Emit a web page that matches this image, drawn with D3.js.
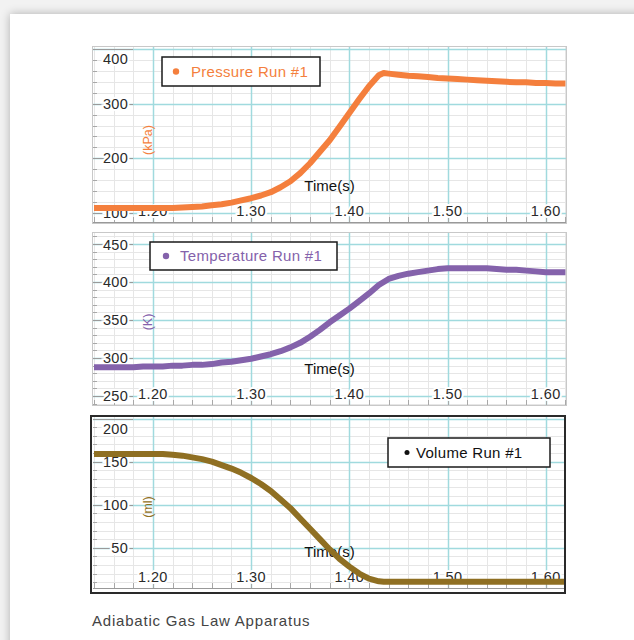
<!DOCTYPE html>
<html>
<head>
<meta charset="utf-8">
<script src="https://cdn.jsdelivr.net/npm/d3@7"></script>
<style>
	body { margin: 0; width: 634px; height: 640px; overflow: hidden; position: relative; background: #f2f2f2; font-family: "Liberation Sans", Arial, sans-serif; }
	#card { position: absolute; left: 10px; top: 14px; width: 680px; height: 700px; background: #fff; box-shadow: 0 0 9px rgba(0,0,0,0.28); }
	#chart { position: absolute; left: 0; top: 0; }
</style>
</head>
<body>
<div id="card"></div>
<svg id="chart" width="634" height="640"></svg>
<script>

	var times = [1.14, 1.15, 1.16, 1.17, 1.18, 1.19, 1.20, 1.21, 1.22, 1.23,
		1.24, 1.25, 1.26, 1.27, 1.28, 1.29, 1.30, 1.31, 1.32, 1.33,
		1.34, 1.35, 1.36, 1.37, 1.38, 1.39, 1.40, 1.41, 1.42, 1.43, 1.435,
		1.44, 1.45, 1.46, 1.47, 1.48, 1.49, 1.50, 1.51, 1.52, 1.53,
		1.54, 1.55, 1.56, 1.57, 1.58, 1.59, 1.60, 1.61, 1.62];

	var pressure = [109, 109, 109, 109, 109, 109, 109, 109, 109, 110,
		111, 112, 114, 116, 119, 123, 127, 132, 138, 147,
		158, 173, 191, 212, 233, 258, 283, 308, 332, 352, 356,
		355, 353, 351, 350, 349, 347, 346, 345, 344, 343,
		342, 341, 340, 339, 339, 338, 338, 337, 337];

	var temperature = [288, 288, 288, 288, 288, 289, 289, 289, 290, 290,
		291, 291, 292, 294, 295, 297, 299, 302, 305, 309,
		314, 320, 328, 337, 347, 356, 365, 375, 385, 396, 400,
		404, 408, 411, 413, 415, 417, 418, 418, 418, 418,
		418, 417, 416, 416, 415, 414, 413, 413, 413];

	var volume = [159, 159, 159, 159, 159, 159, 159, 159, 158, 157,
		155, 153, 150, 146, 142, 137, 131, 124, 116, 106,
		96, 84, 72, 60, 48, 37, 28, 20, 14, 11, 10.5,
		10.5, 10.5, 10.5, 10.5, 10.5, 10.5, 10.5, 10.5, 10.5, 10.5,
		10.5, 10.5, 10.5, 10.5, 10.5, 10.5, 10.5, 10.5, 10.5];

	var xTicks = [1.20, 1.30, 1.40, 1.50, 1.60];
	var pressureTicks = [100, 200, 300, 400];
	var temperatureTicks = [250, 300, 350, 400, 450];
	var volumeTicks = [50, 100, 150, 200];

	var svg = d3.select('#chart');

	var left = 93, right = 566;
	var x = d3.scaleLinear().domain([1.139, 1.6206]).range([left, right]);

	function drawPanel(p) {

		var g = svg.append('g').attr('class', p.name);
		var y = d3.scaleLinear().domain(p.yDomain).range([p.bottom, p.top]);

		g.append('rect')
			.attr('x', left).attr('y', p.top)
			.attr('width', right - left).attr('height', p.bottom - p.top + 1)
			.attr('fill', '#fff');

		// minor grid
		var xMinor = d3.range(1.14, 1.621, 0.02);
		var yMinor = d3.range(Math.ceil(p.yDomain[0] / p.minorStep) * p.minorStep, p.yDomain[1], p.minorStep);

		g.append('g').selectAll('line')
			.data(xMinor)
			.enter()
			.append('line')
			.attr('x1', function(d) { return Math.round(x(d)) + 0.5; })
			.attr('x2', function(d) { return Math.round(x(d)) + 0.5; })
			.attr('y1', p.top).attr('y2', p.bottom)
			.attr('stroke', '#e6e6e6')
			.attr('stroke-width', '1px');

		g.append('g').selectAll('line')
			.data(yMinor)
			.enter()
			.append('line')
			.attr('x1', left).attr('x2', right)
			.attr('y1', function(d) { return Math.round(y(d)) + 0.5; })
			.attr('y2', function(d) { return Math.round(y(d)) + 0.5; })
			.attr('stroke', '#e6e6e6')
			.attr('stroke-width', '1px');

		// major grid
		g.append('g').selectAll('line')
			.data(xTicks)
			.enter()
			.append('line')
			.attr('x1', function(d) { return Math.round(x(d)) + 0.5; })
			.attr('x2', function(d) { return Math.round(x(d)) + 0.5; })
			.attr('y1', p.top).attr('y2', p.bottom)
			.attr('stroke', '#a0dade')
			.attr('stroke-width', '1.5px');

		g.append('g').selectAll('line')
			.data(p.ticks)
			.enter()
			.append('line')
			.attr('x1', left).attr('x2', right)
			.attr('y1', function(d) { return Math.round(y(d)) + 0.5; })
			.attr('y2', function(d) { return Math.round(y(d)) + 0.5; })
			.attr('stroke', '#a0dade')
			.attr('stroke-width', '1.5px');

		// tick marks on left and bottom
		g.append('g').selectAll('line')
			.data(yMinor)
			.enter()
			.append('line')
			.attr('x1', left).attr('x2', left + 4)
			.attr('y1', function(d) { return Math.round(y(d)) + 0.5; })
			.attr('y2', function(d) { return Math.round(y(d)) + 0.5; })
			.attr('stroke', '#a8a8a8');

		g.append('g').selectAll('line')
			.data(p.ticks)
			.enter()
			.append('line')
			.attr('x1', left).attr('x2', left + 40)
			.attr('y1', function(d) { return Math.round(y(d)) + 0.5; })
			.attr('y2', function(d) { return Math.round(y(d)) + 0.5; })
			.attr('stroke', '#9a9a9a');

		g.append('g').selectAll('line')
			.data(xMinor)
			.enter()
			.append('line')
			.attr('x1', function(d) { return Math.round(x(d)) + 0.5; })
			.attr('x2', function(d) { return Math.round(x(d)) + 0.5; })
			.attr('y1', p.bottom).attr('y2', p.bottom - 5)
			.attr('stroke', '#a8a8a8');

		g.append('line')
			.attr('x1', left).attr('x2', right)
			.attr('y1', p.bottom + 0.5).attr('y2', p.bottom + 0.5)
			.attr('stroke', '#999');

		// tick labels
		g.append('g').selectAll('text')
			.data(p.ticks)
			.enter()
			.append('text')
			.attr('x', 128)
			.attr('y', function(d) { return Math.max(y(d), p.top + 12); })
			.attr('dy', '0.35em')
			.attr('text-anchor', 'end')
			.attr('font-size', '14.5px')
			.attr('letter-spacing', '0.3px')
			.attr('fill', '#2a2a2a')
			.attr('stroke', '#fff')
			.attr('stroke-width', '4px')
			.attr('paint-order', 'stroke')
			.text(function(d) { return d; });

		g.append('g').selectAll('text')
			.data(xTicks)
			.enter()
			.append('text')
			.attr('x', function(d) { return x(d); })
			.attr('y', p.bottom - 11)
			.attr('dy', '0.35em')
			.attr('text-anchor', 'middle')
			.attr('font-size', '14.5px')
			.attr('letter-spacing', '0.4px')
			.attr('fill', '#2a2a2a')
			.attr('stroke', '#fff')
			.attr('stroke-width', '4px')
			.attr('paint-order', 'stroke')
			.text(function(d) { return d.toFixed(2); });

		g.append('text')
			.attr('transform', 'translate(148,' + p.unitY + ') rotate(-90)')
			.attr('dy', '0.35em')
			.attr('text-anchor', 'middle')
			.attr('font-size', '12.5px')
			.attr('fill', p.color)
			.text(p.unit);

		g.append('text')
			.attr('x', (left + right) / 2)
			.attr('y', p.bottom - 36)
			.attr('dy', '0.35em')
			.attr('text-anchor', 'middle')
			.attr('font-size', '15px')
			.attr('fill', '#111')
			.text('Time(s)');

		// data
		var line = d3.line()
			.x(function(d, i) { return x(times[i]); })
			.y(function(d) { return y(d); });

		g.append('path')
			.datum(p.values)
			.attr('d', line)
			.attr('fill', 'none')
			.attr('stroke', p.color)
			.attr('stroke-width', '6px')
			.attr('stroke-linejoin', 'round');

		// frame
		g.append('rect')
			.attr('x', p.frame[0]).attr('y', p.frame[1])
			.attr('width', p.frame[2]).attr('height', p.frame[3])
			.attr('fill', 'none')
			.attr('stroke', p.frameColor)
			.attr('stroke-width', p.frameWidth);

		// legend
		var lg = g.append('g').attr('class', 'legend');
		lg.append('rect')
			.attr('x', p.legend[0]).attr('y', p.legend[1])
			.attr('width', p.legend[2]).attr('height', p.legend[3])
			.attr('fill', '#fff')
			.attr('stroke', '#1a1a1a')
			.attr('stroke-width', '1.5px');
		lg.append('circle')
			.attr('cx', p.legend[0] + p.dotDx).attr('cy', p.legend[1] + p.legend[3] / 2)
			.attr('r', p.dotR)
			.attr('fill', p.legendColor);
		lg.append('text')
			.attr('x', p.legend[0] + p.textDx).attr('y', p.legend[1] + p.legend[3] / 2)
			.attr('dy', '0.35em')
			.attr('font-size', '15px')
			.attr('letter-spacing', '0.3px')
			.attr('fill', p.legendColor)
			.text(p.label);
	}

	drawPanel({
		name: 'Pressure', top: 47, bottom: 222, yDomain: [83.5, 403.7],
		ticks: pressureTicks, minorStep: 20, values: pressure,
		color: '#f47f3d', legendColor: '#f47f3d', unit: '(kPa)', unitY: 140,
		label: 'Pressure Run #1', legend: [162, 57, 158, 29], dotDx: 14, textDx: 29, dotR: 3.2,
		frame: [left - 0.5, 46.5, right - left + 1, 177], frameColor: '#c8c8c8', frameWidth: 1
	});

	drawPanel({
		name: 'Temperature', top: 233, bottom: 405, yDomain: [238.2, 464.5],
		ticks: temperatureTicks, minorStep: 10, values: temperature,
		color: '#8462ab', legendColor: '#8462ab', unit: '(K)', unitY: 322,
		label: 'Temperature Run #1', legend: [150, 242, 187, 28], dotDx: 16, textDx: 30, dotR: 3.2,
		frame: [left - 0.5, 232.5, right - left + 1, 173], frameColor: '#c8c8c8', frameWidth: 1
	});

	drawPanel({
		name: 'Volume', top: 417, bottom: 588, yDomain: [3.2, 201.9],
		ticks: volumeTicks, minorStep: 10, values: volume,
		color: '#8f6f22', legendColor: '#111', unit: '(ml)', unitY: 507,
		label: 'Volume Run #1', legend: [388, 438, 162, 29], dotDx: 19, textDx: 28, dotR: 2.5,
		frame: [91, 416, 474, 177], frameColor: '#2a2a2a', frameWidth: 2
	});

	svg.append('text')
		.attr('x', 92)
		.attr('y', 626)
		.attr('font-size', '15px')
		.attr('letter-spacing', '0.8px')
		.attr('fill', '#444')
		.text('Adiabatic Gas Law Apparatus');

</script>
</body>
</html>
